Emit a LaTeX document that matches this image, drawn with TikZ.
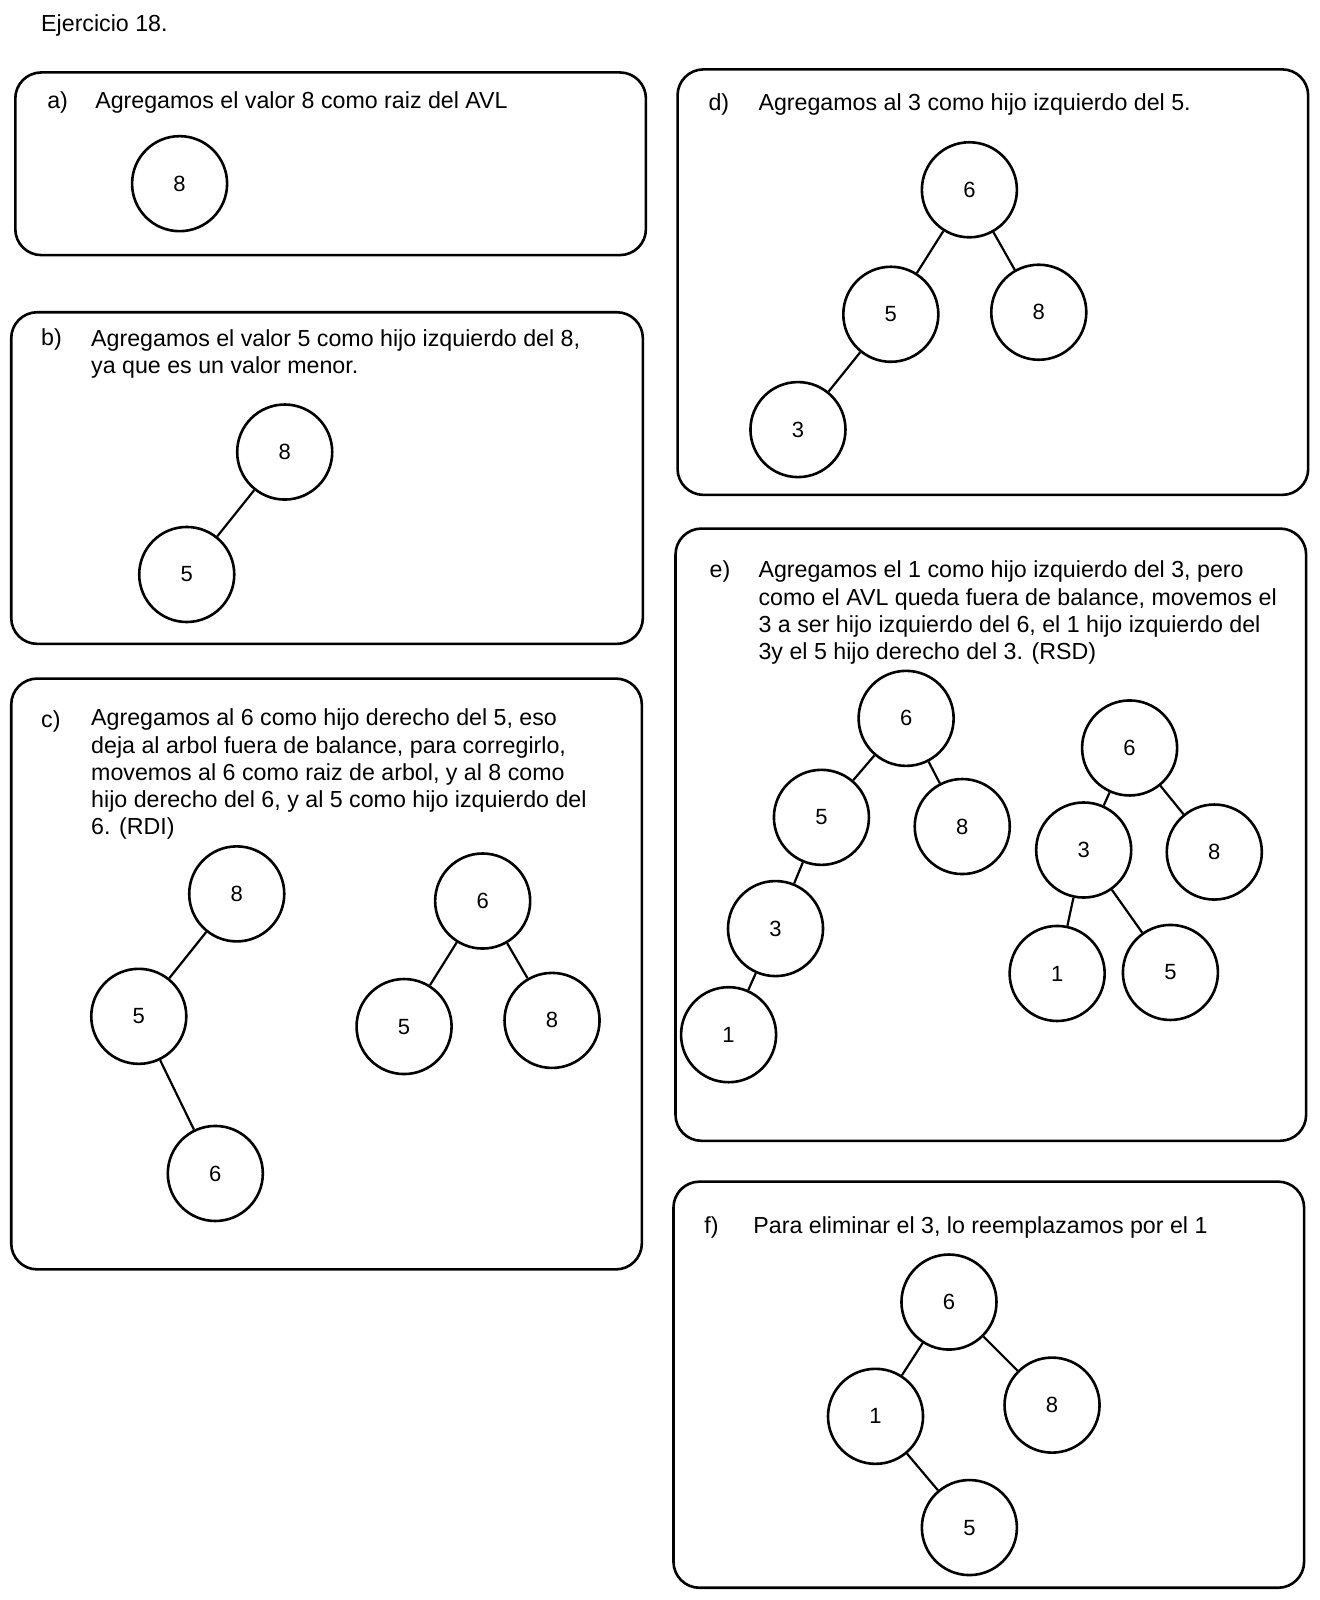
\documentclass[tikz,border=0pt]{standalone}
\usepackage{fontspec}
\setmainfont{Liberation Sans}
\begin{document}
\begin{tikzpicture}[x=0.51pt,y=-0.51pt,
  panel/.style={line width=1.3pt, rounded corners=13pt},
  vtx/.style={circle,draw,line width=1.3pt,minimum size=47.5pt,inner sep=0pt,font=\fontsize{11}{13}\selectfont},
  edge/.style={line width=1.1pt},
  txt/.style={anchor=base west,inner sep=0pt,align=left,font=\fontsize{11.6}{13.6}\selectfont},
  para/.style={anchor=north west,inner sep=0pt,align=left,font=\fontsize{11.6}{13.6}\selectfont}
]
\useasboundingbox (0,0) rectangle (1293,1568);

\node[txt] (title) at (40,31) {Ejercicio 18.};

% panels
\draw[panel] (15,71) rectangle (633,250);
\draw[panel] (11,306) rectangle (630,631);
\draw[panel] (11,665) rectangle (629,1244);
\draw[panel] (664,68) rectangle (1282,485);
\draw[panel] (662,518) rectangle (1280,1118);
\draw[panel] (660,1158) rectangle (1278,1556);

% a)
\node[txt] (la) at (46,106) {a)};
\node[txt] (ta) at (93,106) {Agregamos el valor 8 como raiz del AVL};
\node[vtx] (a8) at (176,180) {8};

% b)
\node[txt] (lb) at (40,339) {b)};
\node[para] (tb) at (89,322.5) {Agregamos el valor 5 como hijo izquierdo del 8,\\ya que es un valor menor.};
\node[vtx] (b8) at (279,443) {8};
\node[vtx] (b5) at (183,563) {5};
\draw[edge] (b8) -- (b5);

% c)
\node[txt] (lc) at (40,713) {c)};
\node[para] (tc) at (89,694.5) {Agregamos al 6 como hijo derecho del 5, eso\\deja al arbol fuera de balance, para corregirlo,\\movemos al 6 como raiz de arbol, y al 8 como\\hijo derecho del 6, y al 5 como hijo izquierdo del\\6. (RDI)};
\node[vtx] (c8) at (232,876) {8};
\node[vtx] (c5) at (136,996) {5};
\node[vtx] (c6) at (211,1150) {6};
\draw[edge] (c8) -- (c5);
\draw[edge] (c5) -- (c6);
\node[vtx] (cr6) at (473,883) {6};
\node[vtx] (cr5) at (396,1006) {5};
\node[vtx] (cr8) at (541,1000) {8};
\draw[edge] (cr6) -- (cr5);
\draw[edge] (cr6) -- (cr8);

% d)
\node[txt] (ld) at (694,108) {d)};
\node[txt] (td) at (743,108) {Agregamos al 3 como hijo izquierdo del 5.};
\node[vtx] (d6) at (950,186) {6};
\node[vtx] (d5) at (873,308) {5};
\node[vtx] (d8) at (1018,306) {8};
\node[vtx] (d3) at (782,421) {3};
\draw[edge] (d6) -- (d5);
\draw[edge] (d6) -- (d8);
\draw[edge] (d5) -- (d3);

% e)
\node[txt] (le) at (695,566) {e)};
\node[para] (te) at (743,549.5) {Agregamos el 1 como hijo izquierdo del 3, pero\\como el AVL queda fuera de balance, movemos el\\3 a ser hijo izquierdo del 6, el 1 hijo izquierdo del\\3y el 5 hijo derecho del 3. (RSD)};
\node[vtx] (e6) at (888,704) {6};
\node[vtx] (e5) at (805,801) {5};
\node[vtx] (e8) at (943,810) {8};
\node[vtx] (e3) at (760,910) {3};
\node[vtx] (e1) at (714,1014) {1};
\draw[edge] (e6) -- (e5);
\draw[edge] (e6) -- (e8);
\draw[edge] (e5) -- (e3);
\draw[edge] (e3) -- (e1);
\node[vtx] (er6) at (1107,733) {6};
\node[vtx] (er3) at (1062,833) {3};
\node[vtx] (er8) at (1190,835) {8};
\node[vtx] (er1) at (1036,954) {1};
\node[vtx] (er5) at (1147,953) {5};
\draw[edge] (er6) -- (er3);
\draw[edge] (er6) -- (er8);
\draw[edge] (er3) -- (er1);
\draw[edge] (er3) -- (er5);

% f)
\node[txt] (lf) at (690,1209) {f)};
\node[txt] (tf) at (738,1209) {Para eliminar el 3, lo reemplazamos por el 1};
\node[vtx] (f6) at (930,1276) {6};
\node[vtx] (f1) at (858,1388) {1};
\node[vtx] (f8) at (1031,1377) {8};
\node[vtx] (f5) at (950,1497) {5};
\draw[edge] (f6) -- (f1);
\draw[edge] (f6) -- (f8);
\draw[edge] (f1) -- (f5);
\end{tikzpicture}
\end{document}
